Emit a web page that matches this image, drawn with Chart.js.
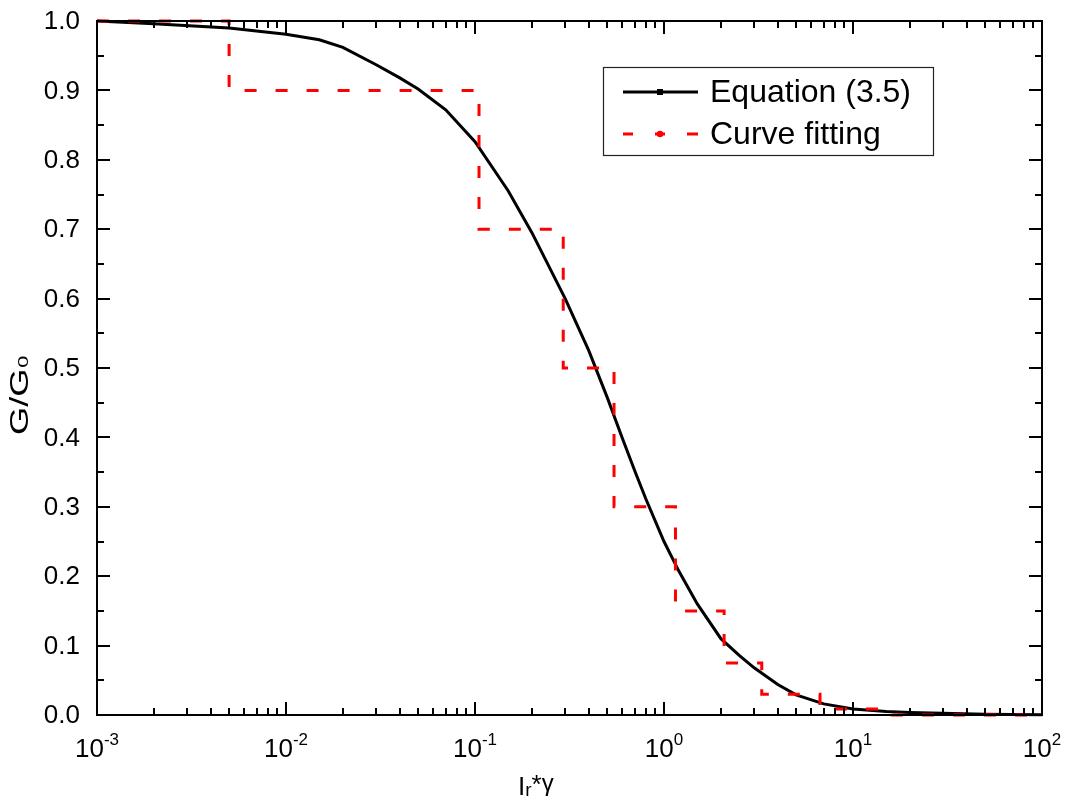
<!DOCTYPE html>
<html>
<head>
<meta charset="utf-8">
<script src="https://cdn.jsdelivr.net/npm/chart.js@4.4.1/dist/chart.umd.min.js"></script>
<style>
  html, body { margin: 0; padding: 0; background: #fff; }
  #wrap { width: 1066px; height: 800px; }
</style>
</head>
<body>
<div id="wrap"><canvas id="c" width="1066" height="800"></canvas></div>
<script>
// ---- Data ----
const eqX = [0.001, 0.002, 0.005, 0.01, 0.015, 0.02, 0.03, 0.04, 0.05, 0.07, 0.1, 0.15, 0.2, 0.3, 0.4, 0.5, 0.6, 0.7, 0.8, 1.0, 1.2, 1.5, 2.0, 2.5, 3.0, 4.0, 5.0, 7.0, 10, 15, 20, 50, 100];
const eqY = [1.0, 0.996, 0.99, 0.981, 0.973, 0.962, 0.937, 0.918, 0.902, 0.872, 0.826, 0.755, 0.695, 0.600, 0.525, 0.458, 0.400, 0.352, 0.312, 0.250, 0.207, 0.160, 0.110, 0.086, 0.068, 0.044, 0.029, 0.016, 0.0085, 0.005, 0.0035, 0.001, 0.0003];

const fitX = [0.001, 0.005, 0.105, 0.293, 0.544, 1.15, 2.08, 3.29, 6.69, 16.1, 100];
const fitY = [1.0, 0.9, 0.7, 0.5, 0.3, 0.15, 0.075, 0.03, 0.0086, 0.0, 0.0];

const seriesNames = ['Equation (3.5)', 'Curve fitting'];
const xMajorTicks = [0.001, 0.01, 0.1, 1, 10, 100];
const xTickExponents = ['-3', '-2', '-1', '0', '1', '2'];
const yTicks = [0, 0.1, 0.2, 0.3, 0.4, 0.5, 0.6, 0.7, 0.8, 0.9, 1.0];
const yTickLabels = ['0.0', '0.1', '0.2', '0.3', '0.4', '0.5', '0.6', '0.7', '0.8', '0.9', '1.0'];

const FONT = '"Liberation Sans", Arial, sans-serif';

const axesPlugin = {
  id: 'originAxes',
  afterDatasetsDraw(chart) {
    const ctx = chart.ctx;
    const xs = chart.scales.x, ys = chart.scales.y;
    const a = chart.chartArea;
    ctx.save();
    ctx.strokeStyle = '#000';
    ctx.lineWidth = 2;
    ctx.setLineDash([]);
    ctx.strokeRect(a.left, a.top, a.right - a.left, a.bottom - a.top);

    ctx.beginPath();
    for (let e = -3; e <= 2; e++) {
      for (let m = 1; m <= 9; m++) {
        const v = m * Math.pow(10, e);
        if (v > 100.0001) break;
        const px = Math.round(xs.getPixelForValue(v));
        const len = (m === 1) ? 13 : 7;
        ctx.moveTo(px, a.bottom); ctx.lineTo(px, a.bottom - len);
        ctx.moveTo(px, a.top); ctx.lineTo(px, a.top + len);
      }
    }
    for (let i = 0; i <= 20; i++) {
      const v = i * 0.05;
      const py = Math.round(ys.getPixelForValue(v));
      const len = (i % 2 === 0) ? 13 : 7;
      ctx.moveTo(a.left, py); ctx.lineTo(a.left + len, py);
      ctx.moveTo(a.right, py); ctx.lineTo(a.right - len, py);
    }
    ctx.stroke();

    ctx.fillStyle = '#000';
    ctx.font = '26px ' + FONT;
    ctx.textAlign = 'right';
    ctx.textBaseline = 'middle';
    yTicks.forEach((v, i) => {
      ctx.fillText(yTickLabels[i], a.left - 17, ys.getPixelForValue(v) + 1);
    });

    ctx.textBaseline = 'alphabetic';
    ctx.textAlign = 'left';
    xMajorTicks.forEach((v, i) => {
      const px = xs.getPixelForValue(v);
      ctx.font = '26px ' + FONT;
      const wBase = ctx.measureText('10').width;
      ctx.font = '17px ' + FONT;
      const wExp = ctx.measureText(xTickExponents[i]).width;
      const start = px - (wBase + wExp) / 2;
      ctx.font = '26px ' + FONT;
      ctx.fillText('10', start, 757);
      ctx.font = '17px ' + FONT;
      ctx.fillText(xTickExponents[i], start + wBase, 745);
    });

    {
      let x = 518;
      const base = 795;
      ctx.font = '26px ' + FONT;
      ctx.fillText('I', x, base); x += ctx.measureText('I').width;
      ctx.font = '19px ' + FONT;
      ctx.fillText('r', x, base + 1); x += ctx.measureText('r').width;
      ctx.font = '26px ' + FONT;
      ctx.fillText('*', x, base - 2); x += ctx.measureText('*').width;
      ctx.font = '24px ' + FONT;
      ctx.fillText('γ', x, base - 4);
    }

    {
      ctx.save();
      ctx.translate(28, 435);
      ctx.rotate(-Math.PI / 2);
      ctx.scale(1.45, 1);
      ctx.font = '25px ' + FONT;
      ctx.textAlign = 'left';
      ctx.textBaseline = 'alphabetic';
      ctx.fillText('G/G', 0, 0);
      const w = ctx.measureText('G/G').width;
      ctx.font = '15px ' + FONT;
      ctx.fillText('0', w + 0.5, 0);
      ctx.restore();
    }

    {
      const bx = 603, by = 67, bw = 330, bh = 88;
      ctx.lineWidth = 1.2;
      ctx.strokeStyle = '#222';
      ctx.fillStyle = '#fff';
      ctx.fillRect(bx, by, bw, bh);
      ctx.strokeRect(bx + 0.5, by + 0.5, bw, bh);
      const ds = chart.data.datasets;
      ctx.strokeStyle = ds[0].borderColor;
      ctx.lineWidth = 3;
      ctx.beginPath(); ctx.moveTo(623, 92); ctx.lineTo(698, 92); ctx.stroke();
      ctx.fillStyle = ds[0].borderColor;
      ctx.fillRect(657, 89, 6, 6);
      ctx.strokeStyle = ds[1].borderColor;
      ctx.beginPath();
      ctx.moveTo(623, 134); ctx.lineTo(633, 134);
      ctx.moveTo(655, 134); ctx.lineTo(665, 134);
      ctx.moveTo(687, 134); ctx.lineTo(698, 134);
      ctx.stroke();
      ctx.fillStyle = ds[1].borderColor;
      ctx.beginPath(); ctx.arc(660, 134, 3.2, 0, Math.PI * 2); ctx.fill();
      ctx.fillStyle = '#000';
      ctx.font = '32px ' + FONT;
      ctx.textAlign = 'left';
      ctx.textBaseline = 'middle';
      ctx.fillText(seriesNames[0], 710, 93);
      ctx.fillText(seriesNames[1], 710, 135);
    }
    ctx.restore();
  }
};

new Chart(document.getElementById('c'), {
  type: 'line',
  data: {
    datasets: [
      {
        label: seriesNames[0],
        data: eqX.map((x, i) => ({ x: x, y: eqY[i] })),
        borderColor: '#000000',
        borderWidth: 3,
        pointRadius: 0,
        tension: 0,
        fill: false,
        clip: 6,
        order: 1
      },
      {
        label: seriesNames[1],
        data: fitX.map((x, i) => ({ x: x, y: fitY[i] })),
        borderColor: '#ff0000',
        borderWidth: 3,
        borderDash: [12, 19],
        pointRadius: 0,
        stepped: 'before',
        fill: false,
        clip: 6,
        order: 0
      }
    ]
  },
  options: {
    responsive: false,
    animation: false,
    devicePixelRatio: 1,
    layout: { padding: { left: 97, top: 21, right: 24, bottom: 85 } },
    plugins: { legend: { display: false }, tooltip: { enabled: false } },
    scales: {
      x: { type: 'logarithmic', min: 0.001, max: 100, display: false },
      y: { type: 'linear', min: 0, max: 1, display: false }
    }
  },
  plugins: [axesPlugin]
});
</script>
</body>
</html>
